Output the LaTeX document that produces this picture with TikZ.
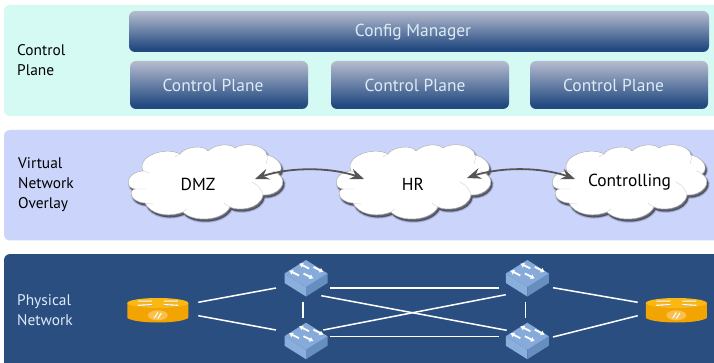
\documentclass[tikz,border=0pt]{standalone}
\usepackage{fontspec}
\setmainfont{PT Sans}
\usetikzlibrary{arrows.meta,bending}
\definecolor{bandA}{HTML}{D5FAF3}
\definecolor{bandB}{HTML}{CBD5FB}
\definecolor{bandC}{HTML}{2A4E80}
\definecolor{gradTop}{HTML}{B6BCCF}
\definecolor{gradBot}{HTML}{224A80}
\definecolor{boxText}{HTML}{DCEBF6}
\definecolor{swTop}{HTML}{86ABDB}
\definecolor{swLeft}{HTML}{8BAFDD}
\definecolor{swRight}{HTML}{668FBF}
\definecolor{rtTop}{HTML}{FBB712}
\definecolor{rtBody}{HTML}{F2A500}
\definecolor{rtBadge}{HTML}{F8C04E}
\definecolor{arrowGrey}{HTML}{555555}
\pgfdeclareverticalshading{boxgrad}{100bp}{color(0bp)=(gradBot); color(29bp)=(gradBot); color(75bp)=(gradTop); color(100bp)=(gradTop)}
\newcommand{\cloudline}{(43,41) .. controls (36,26) and (66,16) .. (80,24)
 .. controls (84,17) and (104,14) .. (108,21)
 .. controls (115,14) and (130,13) .. (135,18)
 .. controls (143,12) and (165,14) .. (167,25)
 .. controls (178,27) and (186,38) .. (178,44)
 .. controls (190,52) and (178,66) .. (163,65)
 .. controls (160,80) and (137,81) .. (130,77)
 .. controls (122,92) and (92,92) .. (83,82)
 .. controls (68,88) and (50,84) .. (45,73)
 .. controls (30,72) and (28,60) .. (35,59)
 .. controls (24,58) and (26,42) .. (43,41) -- cycle}
\newcommand{\cloudpic}[1]{%
 \begin{scope}[shift={(#1,130)}]
  \begin{scope}[shift={(1.5,2.5)}]
   \fill[black,opacity=.10,draw=black,line width=3pt,line join=round] \cloudline;
   \fill[black,opacity=.20,draw=black,line width=1.4pt,line join=round] \cloudline;
   \fill[black,opacity=.30] \cloudline;
  \end{scope}
  \draw[fill=white,draw=black!30,line width=.5pt] \cloudline;
  \draw[black!18,line width=.4pt] (167,25) .. controls (168,28) and (167,31) .. (166,34)
    (178,44) .. controls (176,42) and (174,41) .. (172,41)
    (163,65) .. controls (162,60) and (158,55) .. (152,52)
    (130,77) .. controls (128,76) and (126,75) .. (124,73)
    (83,82) .. controls (84,81) and (85,80) .. (87,79)
    (45,73) .. controls (48,74) and (51,74) .. (54,74)
    (35,59) .. controls (38,59) and (42,59) .. (46,59)
    (43,41) .. controls (45,41) and (47,42) .. (49,43)
    (80,24) .. controls (78,25) and (77,26) .. (75,27);
 \end{scope}}
\newcommand{\switchpic}[2]{%
 \begin{scope}[shift={(#1,#2)}]
  \fill[swLeft] (-21.5,-4.5) -- (0,9) -- (0,18.5) -- (-21.5,5) -- cycle;
  \fill[swRight] (21.5,-4.5) -- (0,9) -- (0,18.5) -- (21.5,5) -- cycle;
  \fill[swTop] (0,-18) -- (21.5,-4.5) -- (0,9) -- (-21.5,-4.5) -- cycle;
  \draw[swarrow] (3,-9.5) -- (-7,-14.5);
  \draw[swarrow] (7.5,-11) -- (17.5,-6);
  \draw[swarrow] (-7,-2.5) -- (-17,-7.5);
  \draw[swarrow] (-2.5,-4.5) -- (7.5,0.5);
 \end{scope}}
\newcommand{\routerpic}[2]{%
 \begin{scope}[shift={(#1,#2)}]
  \fill[rtBody] (-30.5,-7) -- (-30.5,8) .. controls (-22,14) and (22,14) .. (30.5,8) -- (30.5,-7) -- cycle;
  \fill[rtTop] (0,-7) ellipse [x radius=30.5,y radius=5];
  \fill[rtBadge] (0,5.3) ellipse [x radius=10,y radius=5];
  \draw[white,line width=1.1pt] (-3.5,8.2) -- (0,2.5) (0,8.7) -- (3.5,3);
  \draw[black!40,line width=.6pt] (-20,-8.1) -- (-6,-8.1) (-20,-3.9) -- (-6,-4.6) (6,-4.6) -- (20,-3.9) (6,-8.1) -- (20,-8.1);
  \draw[white,line width=1.1pt] (-20,-8.9) -- (-6,-8.9) (-20,-4.7) -- (-6,-5.4) (6,-5.4) -- (20,-4.7) (6,-8.9) -- (20,-8.9);
 \end{scope}}
\tikzset{
 gbox/.style={shading=boxgrad,rounded corners=6pt,inner sep=0pt},
 gtext/.style={text=boxText,inner sep=0pt,font=\fontsize{17.4}{20}\selectfont},
 side/.style={align=left,anchor=west,inner sep=0pt,font=\fontsize{15.4}{20}\selectfont},
 cloudtext/.style={inner sep=0pt,text=black,font=\fontsize{17.4}{20}\selectfont},
 band/.style={rounded corners=6pt},
 link/.style={draw=white,line width=1.5pt},
 swarrow/.style={draw=white,line width=1.8pt,-{Latex[length=4pt,width=5.5pt]}},
 hub/.style={inner sep=0pt,minimum width=43pt,minimum height=36pt},
 peer/.style={draw=arrowGrey,line width=1.8pt,{Stealth[length=14pt,width=11pt,inset=5pt]}-{Stealth[length=14pt,width=11pt,inset=5pt]}}
}
\begin{document}
\begin{tikzpicture}[x=1pt,y=-1pt]
\useasboundingbox (0,0) rectangle (714,363);
\clip (0,0) rectangle (714,363);
\fill[white] (0,0) rectangle (714,363);
\fill[band,bandA] (4,5) rectangle (730,116);
\fill[band,bandB] (4,130) rectangle (730,240.5);
\fill[band,bandC] (4,254) rectangle (730,380);

\node[gbox,minimum width=580pt,minimum height=41pt] (cfg) at (419,31.5) {};
\node[gtext] (cfgt) at (413,32) {Config Manager};
\node[gbox,minimum width=178pt,minimum height=48pt] (cpa) at (219,85) {};
\node[gbox,minimum width=178pt,minimum height=48pt] (cpb) at (420,85) {};
\node[gbox,minimum width=178pt,minimum height=48pt] (cpc) at (619,85) {};
\node[gtext] (cpat) at (213,85.5) {Control Plane};
\node[gtext] (cpbt) at (415,85.5) {Control Plane};
\node[gtext] (cpct) at (613.5,85.5) {Control Plane};

\node[side] (lc) at (17,60.5) {Control\\Plane};
\node[side] (lv) at (18,184.5) {Virtual\\Network\\Overlay};
\node[side,text=boxText] (lp) at (17,310.5) {Physical\\Network};

\cloudpic{100}
\cloudpic{308}
\cloudpic{524}
\node[cloudtext] (dmz) at (198,184.5) {DMZ};
\node[cloudtext] (hr) at (413,184.5) {HR};
\node[cloudtext] (ctl) at (629.5,182.5) {Controlling};
\coordinate (dmzE) at (255,179);
\coordinate (hrW) at (364,179);
\coordinate (hrE) at (467,178);
\coordinate (ctlW) at (575,179);
\draw[peer] (dmzE) .. controls (285,166) and (335,166) .. (hrW);
\draw[peer] (hrE) .. controls (497,166) and (545,166) .. (ctlW);

\node[hub] (s1) at (306,278) {};
\node[hub] (s2) at (306,340.7) {};
\node[hub] (s3) at (527.3,278) {};
\node[hub] (s4) at (527.3,340.7) {};
\node[inner sep=0pt,minimum width=61pt,minimum height=24pt] (r1) at (157.8,310) {};
\node[inner sep=0pt,minimum width=61pt,minimum height=24pt] (r2) at (676.3,310) {};

\draw[link] ([shift={(40.5,-7.7)}]r1.center) -- ([shift={(-30,10)}]s1.center);
\draw[link] ([shift={(40.5,5.7)}]r1.center) -- ([shift={(-30,-10.7)}]s2.center);
\draw[link] ([shift={(-3,23.7)}]s1.center) -- ([shift={(-3,-22.4)}]s2.center);
\draw[link] ([shift={(24.3,10)}]s1.center) -- ([shift={(-28.6,10)}]s3.center);
\draw[link] ([shift={(24.3,-4)}]s2.center) -- ([shift={(-28.6,-4)}]s4.center);
\draw[link] ([shift={(15.3,17.7)}]s1.center) -- ([shift={(-20.6,-10.4)}]s4.center);
\draw[link] ([shift={(17.3,-10.7)}]s2.center) -- ([shift={(-21.6,16.7)}]s3.center);
\draw[link] ([shift={(-1.6,23.7)}]s3.center) -- ([shift={(-1.6,-22.4)}]s4.center);
\draw[link] ([shift={(25.7,9.7)}]s3.center) -- ([shift={(-38.6,-7.7)}]r2.center);
\draw[link] ([shift={(25.7,-3.7)}]s4.center) -- ([shift={(-38.6,5.7)}]r2.center);

\switchpic{306}{278}
\switchpic{306}{340.7}
\switchpic{527.3}{278}
\switchpic{527.3}{340.7}
\routerpic{157.8}{310}
\routerpic{676.3}{310}
\end{tikzpicture}
\end{document}
